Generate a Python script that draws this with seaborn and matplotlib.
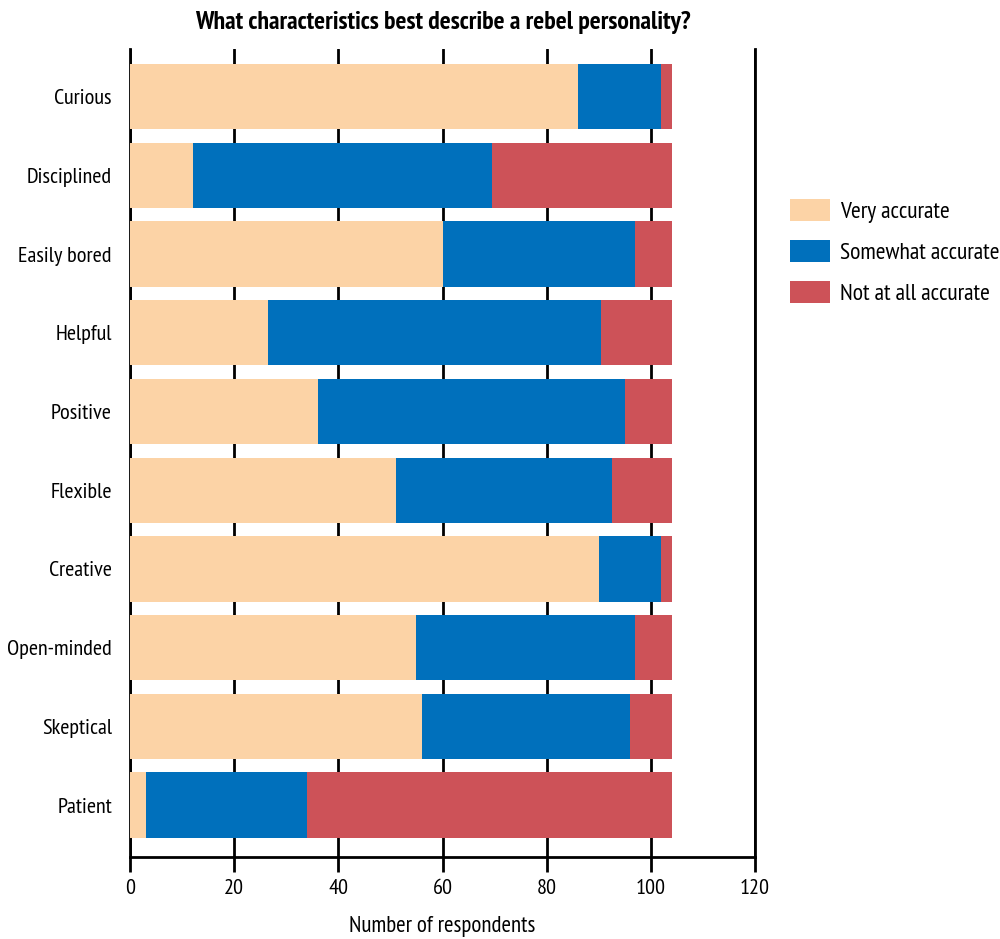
import numpy as np
import pandas as pd
import seaborn as sns
import matplotlib.pyplot as plt
from matplotlib.patches import Patch

traits = ["Curious", "Disciplined", "Easily bored", "Helpful", "Positive",
          "Flexible", "Creative", "Open-minded", "Skeptical", "Patient"]
very_accurate = [86, 12, 60, 26.5, 36, 51, 90, 55, 56, 3]
somewhat_accurate = [16, 57.5, 37, 64, 59, 41.5, 12, 42, 40, 31]
not_accurate = [2, 34.5, 7, 13.5, 9, 11.5, 2, 7, 8, 70]

series_names = ["Very accurate", "Somewhat accurate", "Not at all accurate"]
series_colors = ["#FCD3A6", "#0070BC", "#CD5258"]

sns.set_theme(style="white")
plt.rcParams["font.family"] = ["PT Sans Narrow", "DejaVu Sans"]
plt.rcParams["text.color"] = "black"
plt.rcParams["xtick.color"] = "black"
plt.rcParams["ytick.color"] = "black"
plt.rcParams["axes.labelcolor"] = "black"

df = pd.DataFrame({"trait": traits, "very": very_accurate,
                   "somewhat": somewhat_accurate, "not": not_accurate})
df["cum1"] = df["very"]
df["cum2"] = df["very"] + df["somewhat"]
df["cum3"] = df["cum2"] + df["not"]

fig = plt.figure(figsize=(10, 9.39), dpi=100)
ax = fig.add_axes([0.13, 0.0873, 0.625, 0.861])

# stacked look: draw totals first, then overlay shorter cumulative bars
for col, color in zip(["cum3", "cum2", "cum1"], series_colors[::-1]):
    sns.barplot(data=df, x=col, y="trait", order=traits, color=color,
                width=0.83, saturation=1, edgecolor="none", ax=ax, zorder=3)

ax.set_xlim(0, 120)
ax.set_ylim(9.66, -0.61)
ax.set_xticks(np.arange(0, 121, 20))
ax.xaxis.grid(True, color="black", linewidth=2)
ax.yaxis.grid(False)
ax.set_axisbelow(True)

for side in ["left", "bottom", "right"]:
    ax.spines[side].set_visible(True)
    ax.spines[side].set_color("black")
    ax.spines[side].set_linewidth(2)
ax.spines["top"].set_visible(False)

ax.tick_params(axis="x", length=11, width=2, color="black", direction="out",
               labelsize=16, pad=5, bottom=True)
ax.tick_params(axis="y", length=0, labelsize=16, pad=13)

ax.set_xlabel("Number of respondents", fontsize=16.5, labelpad=13)
ax.set_ylabel("")
ax.set_title("What characteristics best describe a rebel personality?",
             fontsize=18.5, fontweight="bold", pad=14)

handles = [Patch(facecolor=c, edgecolor="none") for c in series_colors]
fig.legend(handles, series_names, loc="upper left", bbox_to_anchor=(0.79, 0.788),
           frameon=False, fontsize=17, handlelength=1.7, handleheight=1.05,
           labelspacing=0.72, handletextpad=0.4, borderpad=0, borderaxespad=0)

fig.savefig("out.png", dpi=100)
